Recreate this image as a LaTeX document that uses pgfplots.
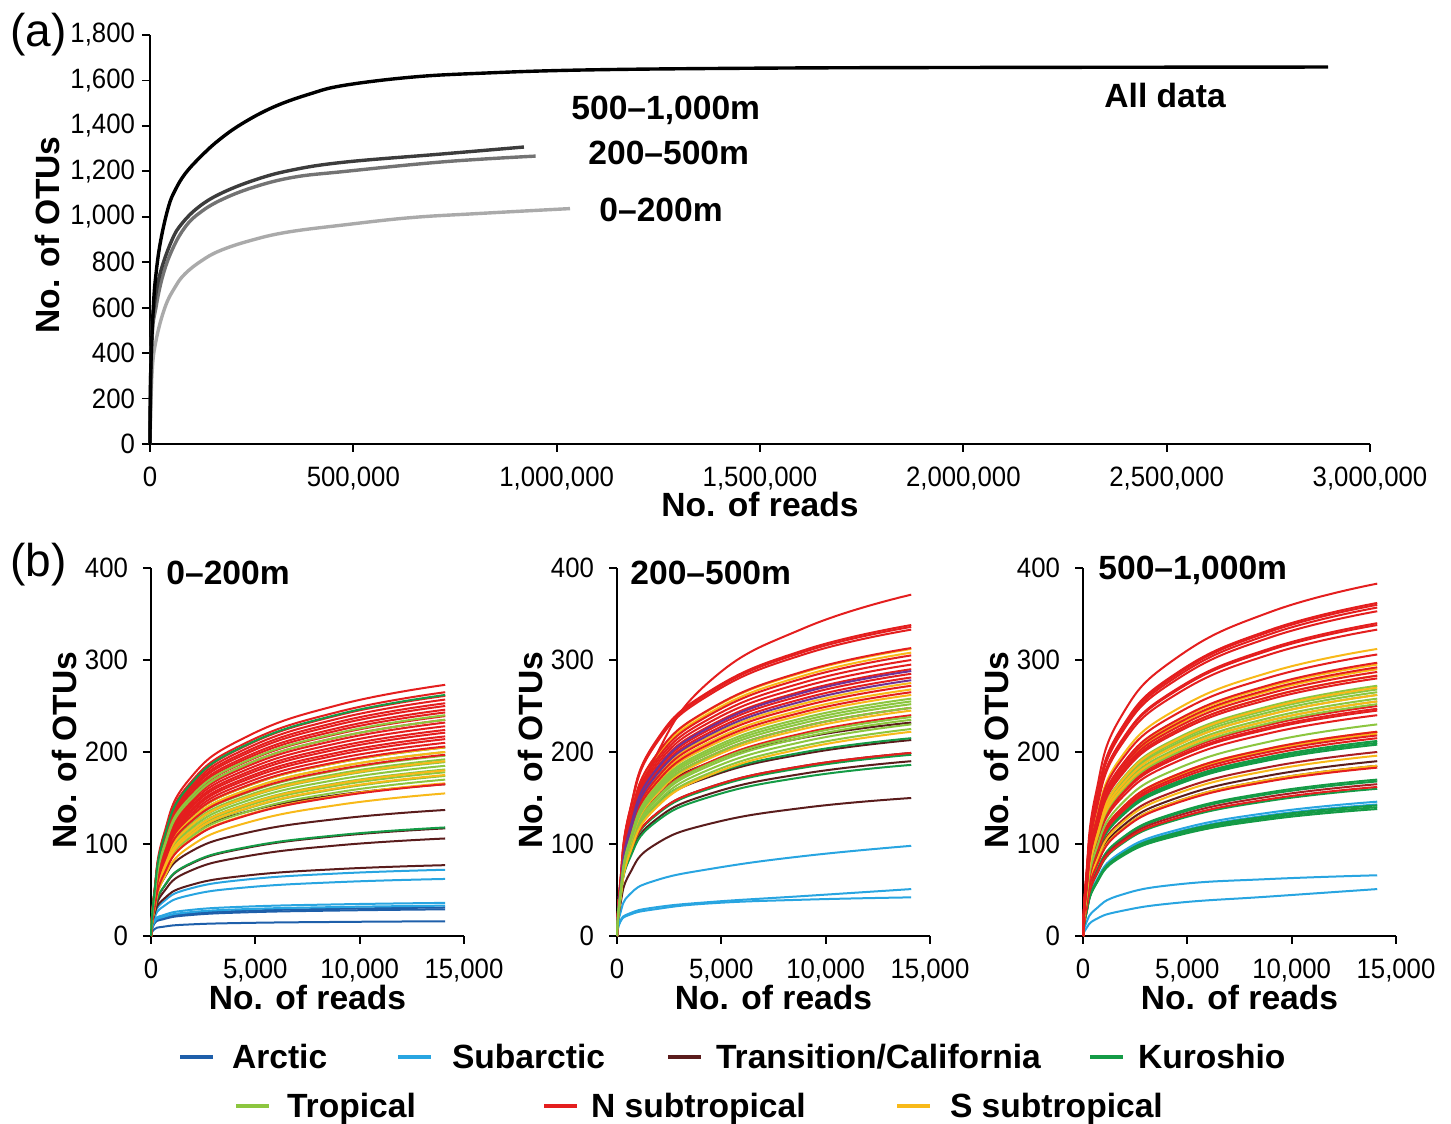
\documentclass[border=0pt]{standalone}
\usepackage{fontspec}
\setmainfont{Liberation Sans}
\newfontfamily\narrowsans[FakeStretch=0.92]{Liberation Sans}
\usepackage{pgfplots}
\pgfplotsset{compat=1.18}
\definecolor{arc}{RGB}{30,95,170}
\definecolor{sub}{RGB}{40,165,225}
\definecolor{tra}{RGB}{90,28,28}
\definecolor{kur}{RGB}{20,155,70}
\definecolor{tro}{RGB}{140,198,63}
\definecolor{nsu}{RGB}{228,30,30}
\definecolor{ssu}{RGB}{248,185,25}
\definecolor{pur}{RGB}{110,50,150}
\definecolor{dre}{RGB}{170,30,35}
\definecolor{g1}{RGB}{60,60,60}
\definecolor{g2}{RGB}{115,115,115}
\definecolor{g3}{RGB}{170,170,170}
\newcommand{\lab}{\fontsize{16.8}{19}\selectfont\bfseries}
\newcommand{\tck}{\narrowsans\fontsize{14}{16}\selectfont}
\newcommand{\rc}[7]{\addplot[color=#1] coordinates {(0,0)(150,#2)(600,#3)(1800,#4)(4500,#5)(9000,#6)(14100,#7)};}
\pgfplotsset{
  myax/.style={
    scale only axis, axis lines=left,
    axis line style={-, line width=0.9pt, black},
    tick align=outside, major tick length=4pt,
    tick style={line width=0.9pt, black},
    tick label style={font=\tck},
    /pgf/number format/assume math mode=true,
    /pgf/number format/1000 sep={,},
    /pgf/number format/fixed,
    scaled ticks=false, enlargelimits=false, clip=false,
    xlabel style={font=\lab}, ylabel style={font=\lab},
    xticklabel style={yshift=-4pt},
  },
  bax/.style={
    myax, width=156.5pt, height=184pt,
    xmin=0, xmax=15000, ymin=0, ymax=400,
    xtick={0,5000,10000,15000}, ytick={0,100,200,300,400},
    yticklabel style={xshift=-4pt},
    every axis plot/.append style={line width=1pt, smooth, tension=0.8},
    xlabel={No. of reads}, ylabel={No. of OTUs},
    xlabel style={at={(axis description cs:0.5,-0.168)}, anchor=center},
    ylabel style={at={(axis description cs:-0.277,0.505)}, anchor=center},
  },
}
\begin{document}
\begin{tikzpicture}
\path[use as bounding box] (0,0) rectangle (725.5pt,562pt);
% ---------- panel (a)
\begin{axis}[myax, at={(75pt,340pt)}, anchor=south west,
  width=610pt, height=204.5pt,
  xmin=0, xmax=3000000, ymin=0, ymax=1800,
  xtick={0,500000,1000000,1500000,2000000,2500000,3000000},
  ytick={0,200,400,600,800,1000,1200,1400,1600,1800},
  xlabel={No. of reads}, ylabel={No. of OTUs},
  xlabel style={at={(axis description cs:0.5,-0.149)}, anchor=center},
  ylabel style={at={(axis description cs:-0.0844,0.511)}, anchor=center},
  every axis plot/.append style={line width=1.7pt, smooth, tension=0.65},
]
\addplot[color=g3] coordinates {(0,0)(4926,308)(14780,455)(36945,602)(61570,690)(86200,749)(127260,807)(172410,851)(246300,895)(336610,932)(476180,964)(640380,996)(804580,1014)(1032800,1036)};
\addplot[color=g2] coordinates {(0,0)(4926,455)(14780,602)(32840,749)(57470,866)(86200,954)(119050,1013)(172410,1072)(254510,1130)(353030,1174)(476180,1199)(722480,1242)(948260,1267)};
\addplot[color=g1] coordinates {(0,0)(3284,455)(9852,602)(24630,749)(53370,895)(78000,969)(119050,1042)(172410,1101)(254510,1160)(344820,1204)(476180,1240)(722480,1277)(919520,1307)};
\addplot[color=black] coordinates {(0,0)(1642,308)(8210,602)(14780,749)(26270,895)(45150,1042)(61570,1116)(86200,1189)(123150,1262)(168300,1336)(225750,1409)(303840,1483)(394080,1541)(476180,1578)(640380,1614)(804580,1631)(1067300,1646)(1500000,1654)(2000000,1657)(2896700,1659)};
\node[anchor=base west, inner sep=0, font=\lab] at (axis cs:1035246,1426) {500–1,000m};
\node[anchor=base west, inner sep=0, font=\lab] at (axis cs:1077049,1232) {200–500m};
\node[anchor=base west, inner sep=0, font=\lab] at (axis cs:1104098,977) {0–200m};
\node[anchor=base west, inner sep=0, font=\lab] at (axis cs:2345902,1479) {All data};
\end{axis}
% ---------- panel (b1)
\begin{axis}[bax, at={(75.5pt,94pt)}, anchor=south west]
\rc{arc}{7.2}{10.1}{12.5}{14.2}{15.3}{16}
\rc{arc}{13.1}{18.3}{22.6}{25.7}{27.7}{29}
\rc{arc}{14.0}{19.5}{24.2}{27.4}{29.6}{31}
\rc{sub}{14.9}{20.8}{25.7}{29.2}{31.5}{33}
\rc{sub}{16.2}{22.7}{28.1}{31.9}{34.4}{36}
\rc{sub}{18.6}{32.2}{44.0}{52.7}{58.6}{62}
\rc{sub}{21.6}{37.4}{51.1}{61.2}{68.0}{72}
\rc{tra}{23.1}{40.0}{54.7}{65.5}{72.8}{77}
\rc{tra}{23.3}{47.7}{70.0}{86.4}{98.6}{106}
\rc{tra}{25.7}{52.7}{77.2}{95.4}{108.8}{117}
\rc{tra}{30.1}{61.7}{90.4}{111.7}{127.4}{137}
\rc{tra}{36.3}{74.3}{108.9}{134.5}{153.5}{165}
\rc{kur}{26.0}{53.1}{77.9}{96.2}{109.7}{118}
\rc{kur}{34.9}{82.0}{127.1}{162.0}{188.6}{205}
\rc{tro}{28.9}{68.0}{105.4}{134.3}{156.4}{170}
\rc{tro}{29.6}{69.6}{107.9}{137.5}{160.1}{174}
\rc{tro}{30.3}{71.2}{110.4}{140.6}{163.8}{178}
\rc{tro}{30.8}{72.4}{112.2}{143.0}{166.5}{181}
\rc{tro}{31.5}{74.0}{114.7}{146.2}{170.2}{185}
\rc{tro}{32.1}{75.6}{117.2}{149.3}{173.9}{189}
\rc{tro}{32.6}{76.8}{119.0}{151.7}{176.6}{192}
\rc{tro}{33.3}{78.4}{121.5}{154.8}{180.3}{196}
\rc{tro}{34.0}{80.0}{124.0}{158.0}{184.0}{200}
\rc{ssu}{26.4}{62.0}{96.1}{122.5}{142.6}{155}
\rc{ssu}{28.2}{66.4}{102.9}{131.1}{152.7}{166}
\rc{ssu}{29.8}{70.0}{108.5}{138.3}{161.0}{175}
\rc{ssu}{30.6}{72.0}{111.6}{142.2}{165.6}{180}
\rc{ssu}{32.3}{76.0}{117.8}{150.1}{174.8}{190}
\rc{ssu}{34.0}{80.0}{124.0}{158.0}{184.0}{200}
\rc{ssu}{34.9}{82.0}{127.1}{162.0}{188.6}{205}
\rc{nsu}{28.1}{66.0}{102.3}{130.4}{151.8}{165}
\rc{nsu}{33.5}{78.8}{122.1}{155.6}{181.2}{197}
\rc{nsu}{35.0}{82.4}{127.7}{162.7}{189.5}{206}
\rc{nsu}{35.7}{84.0}{130.2}{165.9}{193.2}{210}
\rc{nsu}{36.4}{85.6}{132.7}{169.1}{196.9}{214}
\rc{nsu}{36.9}{86.8}{134.5}{171.4}{199.6}{217}
\rc{nsu}{37.6}{88.4}{137.0}{174.6}{203.3}{221}
\rc{nsu}{38.1}{89.6}{138.9}{177.0}{206.1}{224}
\rc{nsu}{38.8}{91.2}{141.4}{180.1}{209.8}{228}
\rc{nsu}{39.4}{92.8}{143.8}{183.3}{213.4}{232}
\rc{nsu}{40.0}{94.0}{145.7}{185.7}{216.2}{235}
\rc{nsu}{40.6}{95.6}{148.2}{188.8}{219.9}{239}
\rc{nsu}{41.3}{97.2}{150.7}{192.0}{223.6}{243}
\rc{nsu}{41.8}{98.4}{152.5}{194.3}{226.3}{246}
\rc{nsu}{42.5}{100.0}{155.0}{197.5}{230.0}{250}
\rc{nsu}{43.0}{101.2}{156.9}{199.9}{232.8}{253}
\rc{nsu}{43.7}{102.8}{159.3}{203.0}{236.4}{257}
\rc{nsu}{44.4}{104.4}{161.8}{206.2}{240.1}{261}
\rc{nsu}{45.1}{106.0}{164.3}{209.4}{243.8}{265}
\rc{nsu}{46.4}{109.2}{169.3}{215.7}{251.2}{273}
\rc{tro}{40.0}{94.0}{145.7}{185.7}{216.2}{235}
\rc{tro}{40.8}{96.0}{148.8}{189.6}{220.8}{240}
\rc{kur}{44.5}{104.8}{162.4}{207.0}{241.0}{262}
\node[anchor=base west, inner sep=0, font=\lab] at (axis cs:719,382.6) {0–200m};
\end{axis}
% ---------- panel (b2)
\begin{axis}[bax, at={(308.5pt,94pt)}, anchor=south west]
\rc{sub}{15}{23}{29}{35.5}{39.5}{42}
\rc{sub}{16}{24.5}{31}{37}{43.5}{51}
\rc{sub}{24}{45}{60}{73}{87}{98}
\rc{tra}{33.0}{67.5}{99.0}{122.3}{139.5}{150}
\rc{tra}{41.8}{85.5}{125.4}{154.9}{176.7}{190}
\rc{tra}{43.8}{89.6}{131.3}{162.2}{185.1}{199}
\rc{tra}{46.9}{95.9}{140.6}{173.6}{198.1}{213}
\rc{tra}{51.0}{104.4}{153.1}{189.1}{215.8}{232}
\rc{kur}{40.9}{83.7}{122.8}{151.6}{173.0}{186}
\rc{kur}{43.3}{88.7}{130.0}{160.6}{183.2}{197}
\rc{kur}{47.3}{96.8}{141.9}{175.2}{200.0}{215}
\rc{nsu}{43.8}{89.6}{131.3}{162.2}{185.1}{199}
\rc{nsu}{40.8}{96.0}{148.8}{189.6}{220.8}{240}
\rc{nsu}{42.2}{99.2}{153.8}{195.9}{228.2}{248}
\rc{tro}{38.3}{90.0}{139.5}{177.8}{207.0}{225}
\rc{tro}{39.1}{92.0}{142.6}{181.7}{211.6}{230}
\rc{tro}{40.0}{94.0}{145.7}{185.7}{216.2}{235}
\rc{tro}{40.5}{95.2}{147.6}{188.0}{219.0}{238}
\rc{ssu}{37.7}{88.8}{137.6}{175.4}{204.2}{222}
\rc{ssu}{41.7}{98.0}{151.9}{193.6}{225.4}{245}
\rc{ssu}{44.5}{104.8}{162.4}{207.0}{241.0}{262}
\rc{ssu}{45.6}{107.2}{166.2}{211.7}{246.6}{268}
\rc{ssu}{46.8}{110.0}{170.5}{217.3}{253.0}{275}
\rc{ssu}{52.4}{123.2}{191.0}{243.3}{283.4}{308}
\rc{ssu}{53.0}{124.8}{193.4}{246.5}{287.0}{312}
\rc{nsu}{45.1}{106.0}{164.3}{209.4}{243.8}{265}
\rc{nsu}{46.2}{108.8}{168.6}{214.9}{250.2}{272}
\rc{nsu}{47.8}{112.4}{174.2}{222.0}{258.5}{281}
\rc{nsu}{48.5}{114.0}{176.7}{225.2}{262.2}{285}
\rc{nsu}{49.3}{116.0}{179.8}{229.1}{266.8}{290}
\rc{nsu}{50.2}{118.0}{182.9}{233.1}{271.4}{295}
\rc{nsu}{51.0}{120.0}{186.0}{237.0}{276.0}{300}
\rc{nsu}{51.9}{122.0}{189.1}{241.0}{280.6}{305}
\rc{nsu}{53.2}{125.2}{194.1}{247.3}{288.0}{313}
\rc{nsu}{56.6}{133.2}{206.5}{263.1}{306.4}{333}
\rc{nsu}{57.1}{134.4}{208.3}{265.4}{309.1}{336}
\rc{nsu}{57.5}{135.2}{209.6}{267.0}{311.0}{338}
\rc{nsu}{44.5}{107.6}{192.9}{278.0}{335.0}{371}
\rc{pur}{47.3}{111.2}{172.4}{219.6}{255.8}{278}
\rc{pur}{49.0}{115.2}{178.6}{227.5}{265.0}{288}
\rc{tro}{42.2}{99.2}{153.8}{195.9}{228.2}{248}
\rc{tro}{42.8}{100.8}{156.2}{199.1}{231.8}{252}
\rc{tro}{43.4}{102.0}{158.1}{201.5}{234.6}{255}
\rc{tro}{43.9}{103.2}{160.0}{203.8}{237.4}{258}
\node[anchor=base west, inner sep=0, font=\lab] at (axis cs:623,382.6) {200–500m};
\end{axis}
% ---------- panel (b3)
\begin{axis}[bax, at={(541.5pt,94pt)}, anchor=south west]
\rc{sub}{8}{18}{27}{36}{43}{51}
\rc{sub}{14}{29}{44.5}{56}{62}{66}
\rc{sub}{24.3}{57.2}{88.7}{113.0}{131.6}{143}
\rc{sub}{24.8}{58.4}{90.5}{115.3}{134.3}{146}
\rc{kur}{23.5}{55.2}{85.6}{109.0}{127.0}{138}
\rc{kur}{23.8}{56.0}{86.8}{110.6}{128.8}{140}
\rc{kur}{24.1}{56.8}{88.0}{112.2}{130.6}{142}
\rc{kur}{27.2}{64.0}{99.2}{126.4}{147.2}{160}
\rc{kur}{28.6}{67.2}{104.2}{132.7}{154.6}{168}
\rc{kur}{28.9}{68.0}{105.4}{134.3}{156.4}{170}
\rc{kur}{35.4}{83.2}{129.0}{164.3}{191.4}{208}
\rc{kur}{35.7}{84.0}{130.2}{165.9}{193.2}{210}
\rc{kur}{36.0}{84.8}{131.4}{167.5}{195.0}{212}
\rc{tra}{31.5}{74.0}{114.7}{146.2}{170.2}{185}
\rc{tra}{32.3}{76.0}{117.8}{150.1}{174.8}{190}
\rc{dre}{28.1}{66.0}{102.3}{130.4}{151.8}{165}
\rc{dre}{34.0}{80.0}{124.0}{158.0}{184.0}{200}
\rc{nsu}{27.5}{64.8}{100.4}{128.0}{149.0}{162}
\rc{ssu}{31.5}{74.0}{114.7}{146.2}{170.2}{185}
\rc{ssu}{33.3}{78.4}{121.5}{154.8}{180.3}{196}
\rc{ssu}{37.4}{88.0}{136.4}{173.8}{202.4}{220}
\rc{ssu}{37.7}{88.8}{137.6}{175.4}{204.2}{222}
\rc{nsu}{31.1}{73.2}{113.5}{144.6}{168.4}{183}
\rc{nsu}{36.6}{86.0}{133.3}{169.9}{197.8}{215}
\rc{nsu}{37.1}{87.2}{135.2}{172.2}{200.6}{218}
\rc{nsu}{37.7}{88.8}{137.6}{175.4}{204.2}{222}
\rc{nsu}{40.8}{96.0}{148.8}{189.6}{220.8}{240}
\rc{nsu}{41.7}{98.0}{151.9}{193.6}{225.4}{245}
\rc{nsu}{42.0}{98.8}{153.1}{195.1}{227.2}{247}
\rc{nsu}{42.5}{100.0}{155.0}{197.5}{230.0}{250}
\rc{tro}{39.1}{92.0}{142.6}{181.7}{211.6}{230}
\rc{tro}{42.8}{100.8}{156.2}{199.1}{231.8}{252}
\rc{tro}{43.4}{102.0}{158.1}{201.5}{234.6}{255}
\rc{tro}{43.9}{103.2}{160.0}{203.8}{237.4}{258}
\rc{tro}{44.5}{104.8}{162.4}{207.0}{241.0}{262}
\rc{tro}{45.1}{106.0}{164.3}{209.4}{243.8}{265}
\rc{tro}{45.6}{107.2}{166.2}{211.7}{246.6}{268}
\rc{tro}{46.2}{108.8}{168.6}{214.9}{250.2}{272}
\rc{ssu}{43.4}{102.0}{158.1}{201.5}{234.6}{255}
\rc{ssu}{44.5}{104.8}{162.4}{207.0}{241.0}{262}
\rc{ssu}{45.9}{108.0}{167.4}{213.3}{248.4}{270}
\rc{ssu}{48.1}{113.2}{175.5}{223.6}{260.4}{283}
\rc{ssu}{49.3}{116.0}{179.8}{229.1}{266.8}{290}
\rc{ssu}{50.2}{118.0}{182.9}{233.1}{271.4}{295}
\rc{ssu}{53.0}{124.8}{193.4}{246.5}{287.0}{312}
\rc{nsu}{47.6}{112.0}{173.6}{221.2}{257.6}{280}
\rc{nsu}{48.1}{113.2}{175.5}{223.6}{260.4}{283}
\rc{nsu}{48.8}{114.8}{177.9}{226.7}{264.0}{287}
\rc{nsu}{49.6}{116.8}{181.0}{230.7}{268.6}{292}
\rc{nsu}{50.5}{118.8}{184.1}{234.6}{273.2}{297}
\rc{nsu}{52.0}{122.4}{189.7}{241.7}{281.5}{306}
\rc{nsu}{56.6}{133.2}{206.5}{263.1}{306.4}{333}
\rc{nsu}{57.5}{135.2}{209.6}{267.0}{311.0}{338}
\rc{nsu}{57.8}{136.0}{210.8}{268.6}{312.8}{340}
\rc{nsu}{60.0}{141.2}{218.9}{278.9}{324.8}{353}
\rc{nsu}{60.7}{142.8}{221.3}{282.0}{328.4}{357}
\rc{nsu}{61.2}{144.0}{223.2}{284.4}{331.2}{360}
\rc{nsu}{61.5}{144.8}{224.4}{286.0}{333.0}{362}
\rc{nsu}{65.1}{153.2}{237.5}{302.6}{352.4}{383}
\node[anchor=base west, inner sep=0, font=\lab] at (axis cs:719,387) {500–1,000m};
\end{axis}
% ---------- panel letters
\node[anchor=west, inner sep=0, font=\fontsize{23}{26}\selectfont] at (5pt,544.5pt) {(a)};
\node[anchor=west, inner sep=0, font=\fontsize{23}{26}\selectfont] at (5pt,279.5pt) {(b)};
% ---------- legend
\begin{scope}[line width=2pt]
\draw[arc] (90pt,33.5pt) -- (106.5pt,33.5pt);
\node[anchor=base west, inner sep=0, font=\lab] at (115pt,27.5pt) {Arctic};
\draw[sub] (199pt,33.5pt) -- (215.5pt,33.5pt);
\node[anchor=base west, inner sep=0, font=\lab] at (225pt,27.5pt) {Subarctic};
\draw[tra] (334pt,33.5pt) -- (350.5pt,33.5pt);
\node[anchor=base west, inner sep=0, font=\lab] at (357pt,27.5pt) {Transition/California};
\draw[kur] (545pt,33.5pt) -- (561.5pt,33.5pt);
\node[anchor=base west, inner sep=0, font=\lab] at (568pt,27.5pt) {Kuroshio};
\draw[tro] (118pt,9pt) -- (134.5pt,9pt);
\node[anchor=base west, inner sep=0, font=\lab] at (142.5pt,3pt) {Tropical};
\draw[nsu] (272pt,9pt) -- (288.5pt,9pt);
\node[anchor=base west, inner sep=0, font=\lab] at (294.5pt,3pt) {N subtropical};
\draw[ssu] (448.5pt,9pt) -- (465pt,9pt);
\node[anchor=base west, inner sep=0, font=\lab] at (474pt,3pt) {S subtropical};
\end{scope}
\end{tikzpicture}
\end{document}
